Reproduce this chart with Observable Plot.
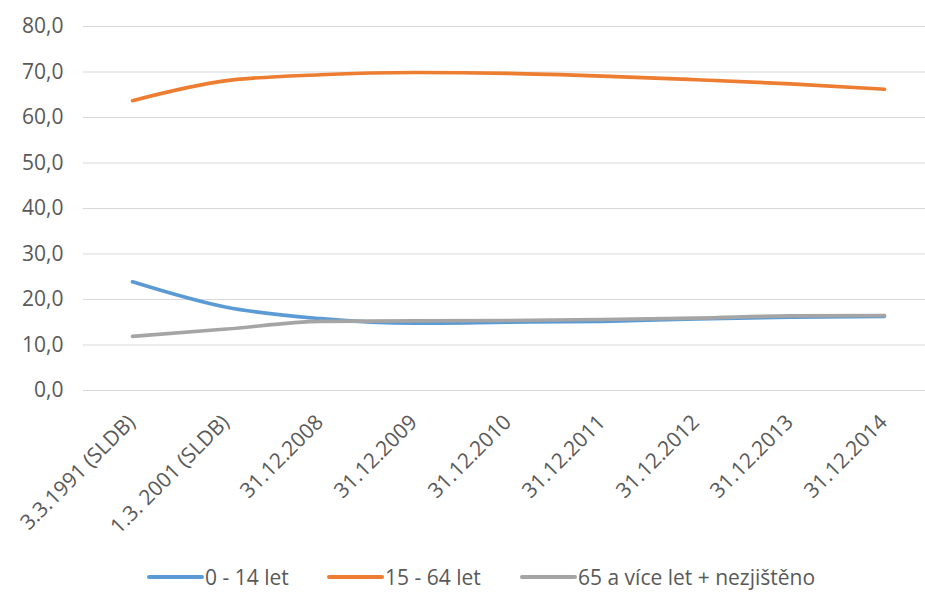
<!DOCTYPE html>
<html>
<head>
<meta charset="utf-8">
<script src="https://cdn.jsdelivr.net/npm/d3@7"></script>
<script src="https://cdn.jsdelivr.net/npm/@observablehq/plot@0.6"></script>
<style>
  body { margin: 0; background: #fff; font-family: "Open Sans", sans-serif; }
  #legend { position: relative; height: 33px; }
  .item { position: absolute; top: 0; height: 33px; display: flex; align-items: center; font-size: 21px; color: #595959; }
  .swatch { width: 57px; height: 4px; border-radius: 2px; margin-right: 1px; }
</style>
</head>
<body>
<div id="chart"></div>
<div id="legend"></div>
<script>
const categories = ["3.3.1991 (SLDB)", "1.3. 2001 (SLDB)", "31.12.2008", "31.12.2009", "31.12.2010", "31.12.2011", "31.12.2012", "31.12.2013", "31.12.2014"];
const seriesNames = ["0 - 14 let", "15 - 64 let", "65 a více let + nezjištěno"];
const seriesColors = ["#5B9BD5", "#ED7D31", "#A5A5A5"];
const age0_14 = [23.9, 18.3, 15.8, 14.8, 15.0, 15.2, 15.7, 16.1, 16.3];
const age15_64 = [63.7, 68.1, 69.4, 69.9, 69.7, 69.1, 68.3, 67.4, 66.2];
const age65plus = [11.9, 13.5, 15.2, 15.3, 15.4, 15.6, 15.9, 16.4, 16.5];
const yTicks = [0, 10, 20, 30, 40, 50, 60, 70, 80];

const seriesValues = [age0_14, age15_64, age65plus];
const rows = [];
seriesValues.forEach((vals, s) => vals.forEach((v, i) => rows.push({cat: categories[i], value: v, series: seriesNames[s]})));

const fmt = v => v.toFixed(1).replace(".", ",");

const chart = Plot.plot({
  width: 925,
  height: 560,
  marginLeft: 83,
  marginRight: 0,
  marginTop: 26,
  marginBottom: 170,
  style: { fontFamily: "Open Sans, sans-serif", fontSize: "21px", color: "#595959", background: "#fff" },
  x: { type: "point", domain: categories, range: [132, 884], padding: 0, axis: null },
  y: { domain: [0, 80], axis: null },
  color: { domain: seriesNames, range: seriesColors },
  marks: [
    Plot.ruleY(yTicks, { y: d => d, stroke: "#d9d9d9", strokeWidth: 1.2 }),
    Plot.text(yTicks, { y: d => d, text: d => fmt(d), frameAnchor: "left", dx: -20, textAnchor: "end", fill: "#595959", fontSize: 21 }),
    Plot.text(categories, { x: d => d, text: d => d, frameAnchor: "bottom", dx: 4, dy: 33, rotate: -45, textAnchor: "end", lineAnchor: "bottom", fill: "#595959", fontSize: 21 }),
    Plot.line(rows, { x: "cat", y: "value", z: "series", stroke: "series", strokeWidth: 3.6, curve: "monotone-x", strokeLinecap: "round", strokeLinejoin: "round" })
  ]
});
document.getElementById("chart").appendChild(chart);

const legend = document.getElementById("legend");
const lefts = [147, 327, 520];
seriesNames.forEach((name, i) => {
  const item = document.createElement("div");
  item.className = "item";
  item.style.left = lefts[i] + "px";
  const sw = document.createElement("span");
  sw.className = "swatch";
  sw.style.background = seriesColors[i];
  const t = document.createElement("span");
  t.textContent = name;
  item.appendChild(sw);
  item.appendChild(t);
  legend.appendChild(item);
});
</script>
</body>
</html>
